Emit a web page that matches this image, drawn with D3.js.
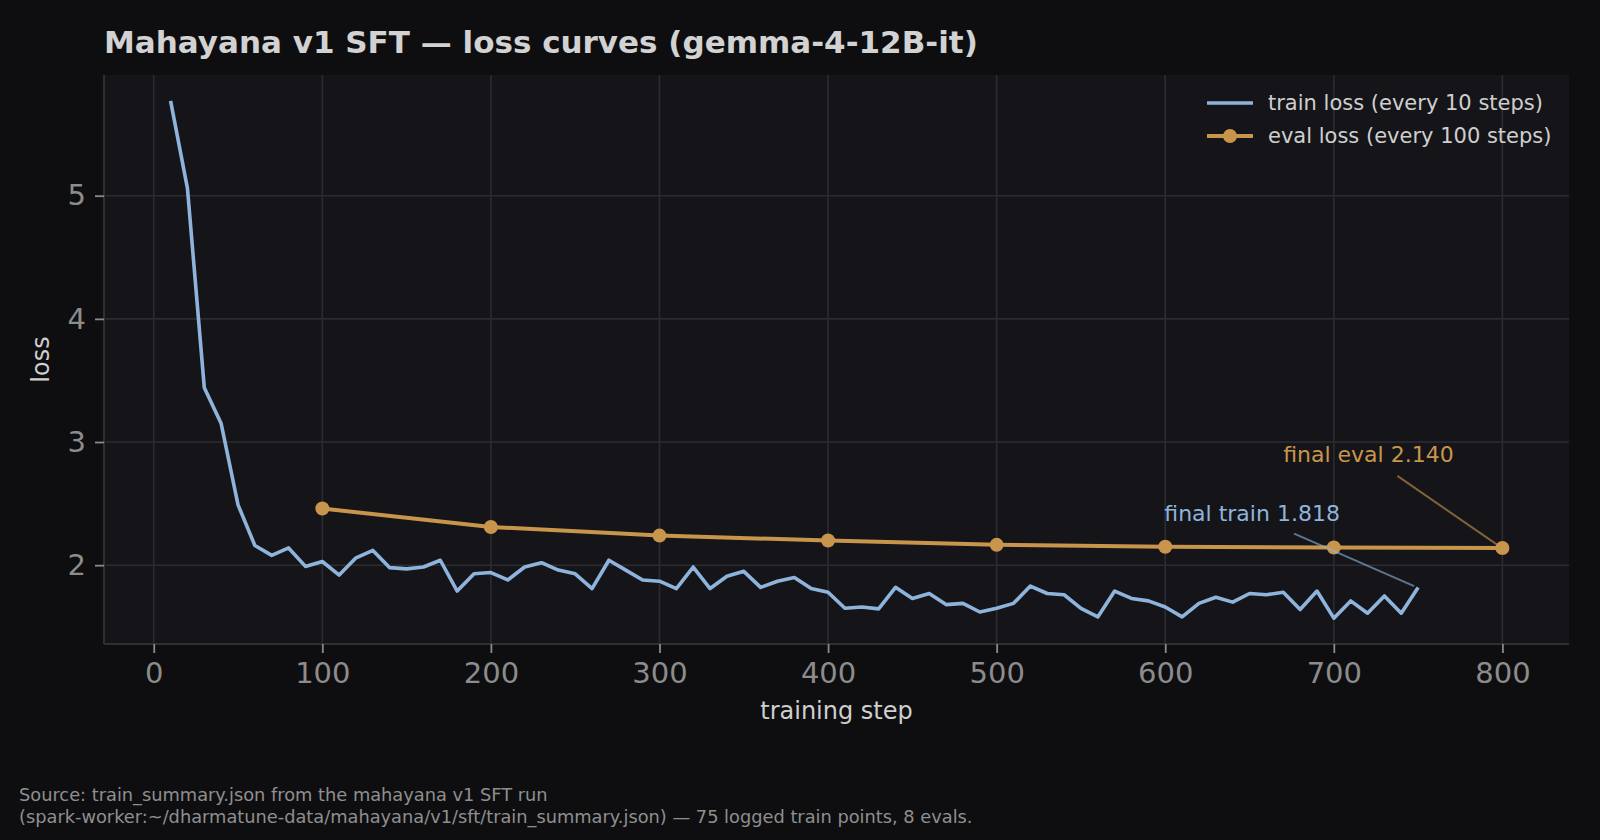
<!DOCTYPE html>
<html>
<head>
<meta charset="utf-8">
<script src="https://cdn.jsdelivr.net/npm/d3@7"></script>
<style>
  html, body { margin: 0; padding: 0; background: #0e0e10; }
  svg { display: block; font-family: "DejaVu Sans", sans-serif; overflow: visible; }
</style>
</head>
<body>
<svg id="chart" width="1600" height="840"></svg>
<script>
const trainSteps = [10, 20, 30, 40, 50, 60, 70, 80, 90, 100,
  110, 120, 130, 140, 150, 160, 170, 180, 190, 200,
  210, 220, 230, 240, 250, 260, 270, 280, 290, 300,
  310, 320, 330, 340, 350, 360, 370, 380, 390, 400,
  410, 420, 430, 440, 450, 460, 470, 480, 490, 500,
  510, 520, 530, 540, 550, 560, 570, 580, 590, 600,
  610, 620, 630, 640, 650, 660, 670, 680, 690, 700,
  710, 720, 730, 740, 750];
const trainLoss = [5.77, 5.06, 3.44, 3.15, 2.49, 2.16, 2.08, 2.14, 1.99, 2.03,
  1.92, 2.06, 2.12, 1.98, 1.97, 1.985, 2.04, 1.79, 1.93, 1.94,
  1.88, 1.985, 2.02, 1.96, 1.93, 1.81, 2.04, 1.96, 1.88, 1.87,
  1.81, 1.985, 1.81, 1.91, 1.95, 1.82, 1.87, 1.90, 1.81, 1.78,
  1.65, 1.66, 1.645, 1.82, 1.73, 1.77, 1.68, 1.69, 1.62, 1.65,
  1.69, 1.83, 1.77, 1.76, 1.65, 1.58, 1.79, 1.73, 1.71, 1.66,
  1.58, 1.69, 1.74, 1.70, 1.77, 1.76, 1.78, 1.64, 1.79, 1.57,
  1.71, 1.61, 1.75, 1.61, 1.818];
const evalSteps = [100, 200, 300, 400, 500, 600, 700, 800];
const evalLoss = [2.46, 2.31, 2.24, 2.20, 2.165, 2.15, 2.143, 2.140];
const xTicks = [0, 100, 200, 300, 400, 500, 600, 700, 800];
const yTicks = [2, 3, 4, 5];

const trainData = trainSteps.map((s, i) => ({ step: s, loss: trainLoss[i] }));
const evalData = evalSteps.map((s, i) => ({ step: s, loss: evalLoss[i] }));

const trainColor = "#8fb4dc";
const evalColor = "#c9954c";

const svg = d3.select("#chart");
const width = +svg.attr("width");
const height = +svg.attr("height");
const margin = { top: 75, right: 31, bottom: 196, left: 104 };
const innerWidth = width - margin.left - margin.right;
const innerHeight = height - margin.top - margin.bottom;

svg.append("rect")
  .attr("width", width)
  .attr("height", height)
  .attr("fill", "#0e0e10");

const g = svg.append("g")
  .attr("transform", `translate(${margin.left},${margin.top})`);

g.append("rect")
  .attr("width", innerWidth)
  .attr("height", innerHeight)
  .attr("fill", "#151519");

// matplotlib-style 5% padding around the data
const allSteps = trainSteps.concat(evalSteps);
const allLoss = trainLoss.concat(evalLoss);
const xMin = d3.min(allSteps), xMax = d3.max(allSteps);
const yMin = d3.min(allLoss), yMax = d3.max(allLoss);
const xPad = (xMax - xMin) * 0.05, yPad = (yMax - yMin) * 0.05;

const x = d3.scaleLinear()
  .domain([xMin - xPad, xMax + xPad])
  .range([0, innerWidth]);

const y = d3.scaleLinear()
  .domain([yMin - yPad, yMax + yPad])
  .range([innerHeight, 0]);

// grid
g.append("g")
  .selectAll("line")
  .data(xTicks)
  .enter()
  .append("line")
  .attr("x1", d => x(d))
  .attr("x2", d => x(d))
  .attr("y1", 0)
  .attr("y2", innerHeight)
  .attr("stroke", "#2b2b31")
  .attr("stroke-width", 1.6);

g.append("g")
  .selectAll("line")
  .data(yTicks)
  .enter()
  .append("line")
  .attr("x1", 0)
  .attr("x2", innerWidth)
  .attr("y1", d => y(d))
  .attr("y2", d => y(d))
  .attr("stroke", "#2b2b31")
  .attr("stroke-width", 1.6);

// axes
const xAxis = g.append("g")
  .attr("transform", `translate(0,${innerHeight})`)
  .call(d3.axisBottom(x).tickValues(xTicks).tickSize(9).tickPadding(9).tickFormat(d3.format("d")));

const yAxis = g.append("g")
  .call(d3.axisLeft(y).tickValues(yTicks).tickSize(9).tickPadding(9).tickFormat(d3.format("d")));

[xAxis, yAxis].forEach(ax => {
  ax.select(".domain").attr("stroke", "#2e2e34").attr("stroke-width", 2);
  ax.selectAll(".tick line").attr("stroke", "#8a8a8a").attr("stroke-width", 1.8);
  ax.selectAll(".tick text")
    .attr("fill", "#8c8c8c")
    .style("font-size", "29px")
    .style("font-family", "DejaVu Sans, sans-serif");
});
xAxis.select(".domain").attr("d", `M0,0H${innerWidth}`);
yAxis.select(".domain").attr("d", `M0,0V${innerHeight}`);

// lines
const line = d3.line()
  .x(d => x(d.step))
  .y(d => y(d.loss));

g.append("path")
  .datum(trainData)
  .attr("fill", "none")
  .attr("stroke", trainColor)
  .attr("stroke-width", 3.6)
  .attr("stroke-linejoin", "round")
  .attr("d", line);

g.append("path")
  .datum(evalData)
  .attr("fill", "none")
  .attr("stroke", evalColor)
  .attr("stroke-width", 4)
  .attr("stroke-linejoin", "round")
  .attr("d", line);

g.selectAll(".eval-dot")
  .data(evalData)
  .enter()
  .append("circle")
  .attr("class", "eval-dot")
  .attr("cx", d => x(d.step))
  .attr("cy", d => y(d.loss))
  .attr("r", 7)
  .attr("fill", evalColor);

// annotations for the final values
const lastTrain = trainData[trainData.length - 1];
const lastEval = evalData[evalData.length - 1];
const annotations = [
  { d: lastTrain, text: `final train ${lastTrain.loss.toFixed(3)}`, color: trainColor,
    tx: -166, ty: -67, lx: -124, ly: -54, ex: -4, ey: -1.5 },
  { d: lastEval, text: `final eval ${lastEval.loss.toFixed(3)}`, color: evalColor,
    tx: -134, ty: -86, lx: -105, ly: -72, ex: -5, ey: -3 }
];

annotations.forEach(a => {
  const px = x(a.d.step), py = y(a.d.loss);
  g.append("line")
    .attr("x1", px + a.lx)
    .attr("y1", py + a.ly)
    .attr("x2", px + a.ex)
    .attr("y2", py + a.ey)
    .attr("stroke", a.color)
    .attr("stroke-opacity", 0.6)
    .attr("stroke-width", 2);
  g.append("text")
    .attr("x", px + a.tx)
    .attr("y", py + a.ty)
    .attr("text-anchor", "middle")
    .attr("fill", a.color)
    .style("font-size", "22px")
    .text(a.text);
});

// legend
const legendItems = [
  { label: "train loss (every 10 steps)", color: trainColor, dot: false, width: 3.6 },
  { label: "eval loss (every 100 steps)", color: evalColor, dot: true, width: 4 }
];

const legend = svg.append("g")
  .attr("transform", "translate(1207,103)");

legendItems.forEach((item, i) => {
  const row = legend.append("g").attr("transform", `translate(0,${i * 33})`);
  row.append("line")
    .attr("x1", 0)
    .attr("x2", 46)
    .attr("stroke", item.color)
    .attr("stroke-width", item.width);
  if (item.dot) {
    row.append("circle").attr("cx", 23).attr("r", 7).attr("fill", item.color);
  }
  row.append("text")
    .attr("x", 61)
    .attr("dy", "0.35em")
    .attr("fill", "#cfcfcf")
    .style("font-size", "21px")
    .text(item.label);
});

// titles and labels
svg.append("text")
  .attr("x", 104)
  .attr("y", 53)
  .attr("fill", "#d2d2d2")
  .style("font-size", "31px")
  .style("font-weight", "bold")
  .text("Mahayana v1 SFT — loss curves (gemma-4-12B-it)");

svg.append("text")
  .attr("x", margin.left + innerWidth / 2)
  .attr("y", 719)
  .attr("text-anchor", "middle")
  .attr("fill", "#cfcfcf")
  .style("font-size", "24px")
  .text("training step");

svg.append("text")
  .attr("transform", "rotate(-90)")
  .attr("x", -(margin.top + innerHeight / 2))
  .attr("y", 49)
  .attr("text-anchor", "middle")
  .attr("fill", "#cfcfcf")
  .style("font-size", "24px")
  .text("loss");

const footer = [
  "Source: train_summary.json from the mahayana v1 SFT run",
  "(spark-worker:~/dharmatune-data/mahayana/v1/sft/train_summary.json) — 75 logged train points, 8 evals."
];

svg.selectAll(".footer")
  .data(footer)
  .enter()
  .append("text")
  .attr("class", "footer")
  .attr("x", 19)
  .attr("y", (d, i) => 801 + i * 22)
  .attr("fill", "#8f8f8f")
  .style("font-size", "17.8px")
  .text(d => d);
</script>
</body>
</html>
